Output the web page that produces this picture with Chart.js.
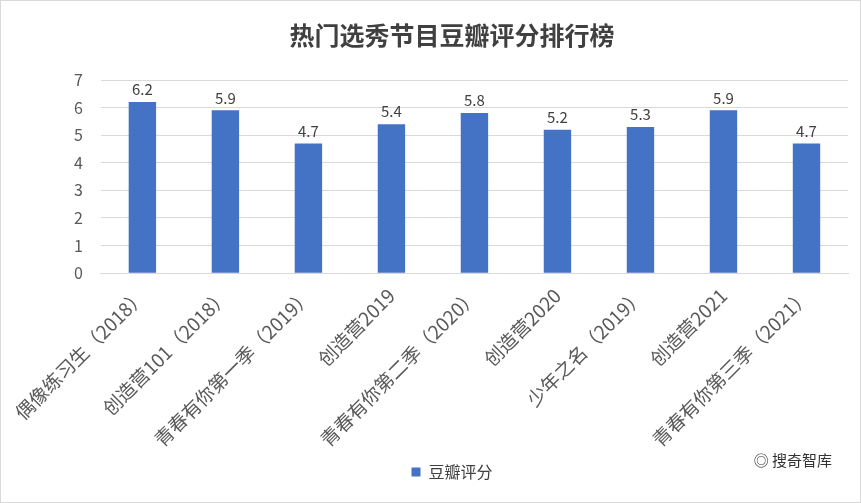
<!DOCTYPE html>
<html><head><meta charset="utf-8">
<script src="https://cdn.jsdelivr.net/npm/chart.js@4"></script>
<style>
html,body{margin:0;padding:0;background:#fff;}
#wrap{position:relative;width:859px;height:501px;border:1px solid #d9d9d9;}
#wm{position:absolute;right:28px;bottom:32px;font:15px "Noto Sans CJK SC";color:#333;}
</style></head><body>
<div id="wrap"><canvas id="c" width="859" height="501"></canvas><div id="wm">◎ 搜奇智库</div></div>
<script>
const categories=["偶像练习生（2018）","创造营101（2018）","青春有你第一季（2019）","创造营2019","青春有你第二季（2020）","创造营2020","少年之名（2019）","创造营2021","青春有你第三季（2021）"];
const scores=[6.2,5.9,4.7,5.4,5.8,5.2,5.3,5.9,4.7];
const seriesName="豆瓣评分";
const titleText="热门选秀节目豆瓣评分排行榜";
const font='"Noto Sans CJK SC", sans-serif';
const labelPlugin={id:'vals',afterDatasetsDraw(ch){const ctx=ch.ctx;const m=ch.getDatasetMeta(0);ctx.save();ctx.font='15px '+font;ctx.fillStyle='#404040';ctx.textAlign='center';ctx.textBaseline='bottom';
m.data.forEach((b,i)=>ctx.fillText(scores[i].toFixed(1),b.x,b.y-5));ctx.restore();}};
new Chart(document.getElementById('c'),{type:'bar',
data:{labels:categories,datasets:[{label:seriesName,data:scores,backgroundColor:'#4472C4',barPercentage:0.33,categoryPercentage:1}]},
options:{responsive:false,animation:false,
layout:{padding:{left:55,right:12,top:5,bottom:12}},
plugins:{title:{display:true,text:titleText,font:{family:font,size:25,weight:'bold'},color:'#404040',padding:{top:14,bottom:30}},
legend:{position:'bottom',labels:{boxWidth:9,boxHeight:9,font:{family:font,size:16},color:'#404040'}},tooltip:{enabled:false}},
scales:{y:{min:0,max:7,ticks:{stepSize:1,font:{family:font,size:16},color:'#595959',padding:18},grid:{color:'#d9d9d9',drawTicks:false},border:{display:false}},
x:{ticks:{minRotation:45,maxRotation:45,font:{family:font,size:19},color:'#595959'},grid:{display:false},border:{color:'#d9d9d9'}}}},
plugins:[labelPlugin]});
</script></body></html>
